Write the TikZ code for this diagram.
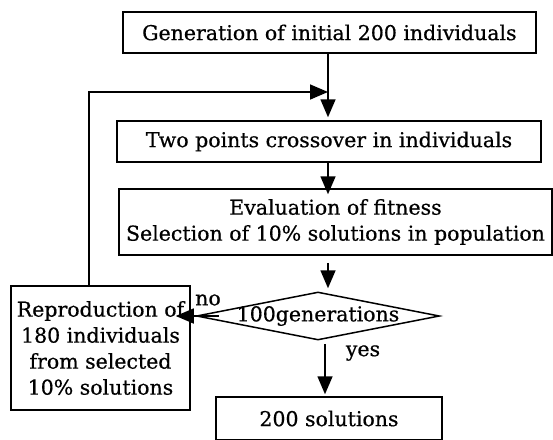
\documentclass[tikz,border=0pt]{standalone}
\usepackage{fontspec}
\setmainfont[FakeBold=0.6]{DejaVu Serif}
\usetikzlibrary{arrows.meta,shapes.geometric}
\begin{document}
\begin{tikzpicture}[x=1pt,y=-1pt,
  txt/.style={font=\fontsize{20.5}{26}\selectfont},
  box/.style={txt,draw,rectangle,line width=1.5pt,inner sep=0pt,align=center},
  dia/.style={draw,diamond,line width=1.5pt,inner sep=0pt,minimum width=243pt,minimum height=48pt},
  lbl/.style={txt,inner sep=0pt},
  arr/.style={line width=1.6pt,-{Triangle[length=18pt,width=15pt]}}]
\useasboundingbox (0,0) rectangle (553,439);
\clip (0,0) rectangle (553,439);
\fill[white] (0,0) rectangle (553,439);
\node[box,minimum width=413pt,minimum height=41pt] (b1) at (329.4,32.5) {Generation of initial 200 individuals};
\node[box,minimum width=424pt,minimum height=41pt] (b2) at (329,141.5) {Two points crossover in individuals};
\node[box,minimum width=433pt,minimum height=66pt] (b3) at (335.5,222) {Evaluation of fitness\\Selection of 10\% solutions in population};
\node[dia] (d) at (318,316) {};
\node[lbl] (dt) at (d.center) {100generations};
\node[box,minimum width=179pt,minimum height=124pt] (b4) at (100.5,348) {Reproduction of\\180 individuals\\from selected\\10\% solutions};
\node[box,minimum width=226pt,minimum height=43pt] (b5) at (329,418.5) {200 solutions};
\node[lbl] (no) at (208,300) {no};
\node[lbl] (yes) at (363,353) {yes};
\coordinate (colA) at (328,0);
\coordinate (colB) at (325,0);
\coordinate (loopx) at (89,0);
\coordinate (loopy) at (0,92);
\draw[arr,shorten >=3pt] (b1.south -| colA) -- (b2.north -| colA);
\draw[arr,shorten >=-6pt] (b2.south -| colA) -- (b3.north -| colA);
\draw[arr,shorten <=7pt,shorten >=3pt] (b3.south -| colA) -- (d.north -| colA);
\draw[arr,shorten <=3pt,shorten >=2pt] (d.south -| colB) -- (b5.north -| colB);
\draw[arr] ([xshift=23pt]d.west) -- ([xshift=-15pt]b4.east |- d.west);
\draw[arr] (b4.north -| loopx) |- (loopy -| colA);
\end{tikzpicture}
\end{document}
